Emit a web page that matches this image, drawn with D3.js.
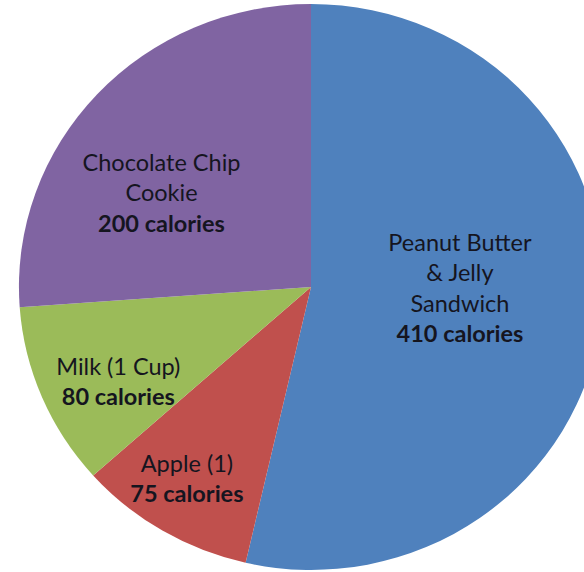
<!DOCTYPE html>
<html>
<head>
<meta charset="utf-8">
<script src="https://cdn.jsdelivr.net/npm/d3@7"></script>
<style>
  html, body { margin: 0; padding: 0; background: #fff; }
  svg { display: block; }
  text { font-family: Lato, "Open Sans", sans-serif; }
</style>
</head>
<body>
<svg id="chart" width="584" height="572"></svg>
<script>
// Calories in a packed lunch
const foods = ["Peanut Butter & Jelly Sandwich", "Apple (1)", "Milk (1 Cup)", "Chocolate Chip Cookie"];
const calories = [410, 75, 80, 200];
const nameLines = [["Peanut Butter", "& Jelly", "Sandwich"], ["Apple (1)"], ["Milk (1 Cup)"], ["Chocolate Chip", "Cookie"]];
const colors = ["#4F81BD", "#C0504D", "#9BBB59", "#8064A2"];

// label placement: distance out from the centre (fraction of radius)
// and a turn away from the slice's middle angle (degrees)
const labelRadius = [0.51, 0.80, 0.74, 0.61];
const labelTurn = [-6, 1.5, -4, -10];

const width = 584, height = 572;
const cx = 311, cy = 287, r = 283;
const stretchX = 1.032;   // the pie is drawn slightly wider than tall
const lineH = 30.5;

const svg = d3.select("#chart");

const pie = d3.pie().sort(null).value(d => d.value).startAngle(0).endAngle(2 * Math.PI);
const data = pie(calories.map((v, i) => ({ value: v, i })));

const arc = d3.arc().innerRadius(0).outerRadius(r);

const g = svg.append("g").attr("transform", `translate(${cx},${cy}) scale(${stretchX},1)`);
g.selectAll("path.slice")
  .data(data)
  .join("path")
  .attr("class", "slice")
  .attr("d", arc)
  .attr("fill", d => colors[d.data.i]);

const labels = svg.append("g").attr("transform", `translate(${cx},${cy})`);
data.forEach(d => {
  const i = d.data.i;
  const a = (d.startAngle + d.endAngle) / 2 + labelTurn[i] * Math.PI / 180;
  const rr = r * labelRadius[i];
  const x = Math.sin(a) * rr * stretchX, y = -Math.cos(a) * rr;
  const lines = nameLines[i].map(t => ({ t, bold: false }))
    .concat([{ t: `${calories[i]} calories`, bold: true }]);
  const top = y - (lines.length - 1) * lineH / 2;
  const t = labels.append("text")
    .attr("text-anchor", "middle")
    .attr("font-size", 23.5)
    .attr("fill", "#15151f");
  lines.forEach((ln, k) => {
    t.append("tspan")
      .attr("x", x)
      .attr("y", top + k * lineH)
      .attr("dy", "0.35em")
      .attr("font-weight", ln.bold ? 700 : 400)
      .text(ln.t);
  });
});
</script>
</body>
</html>
